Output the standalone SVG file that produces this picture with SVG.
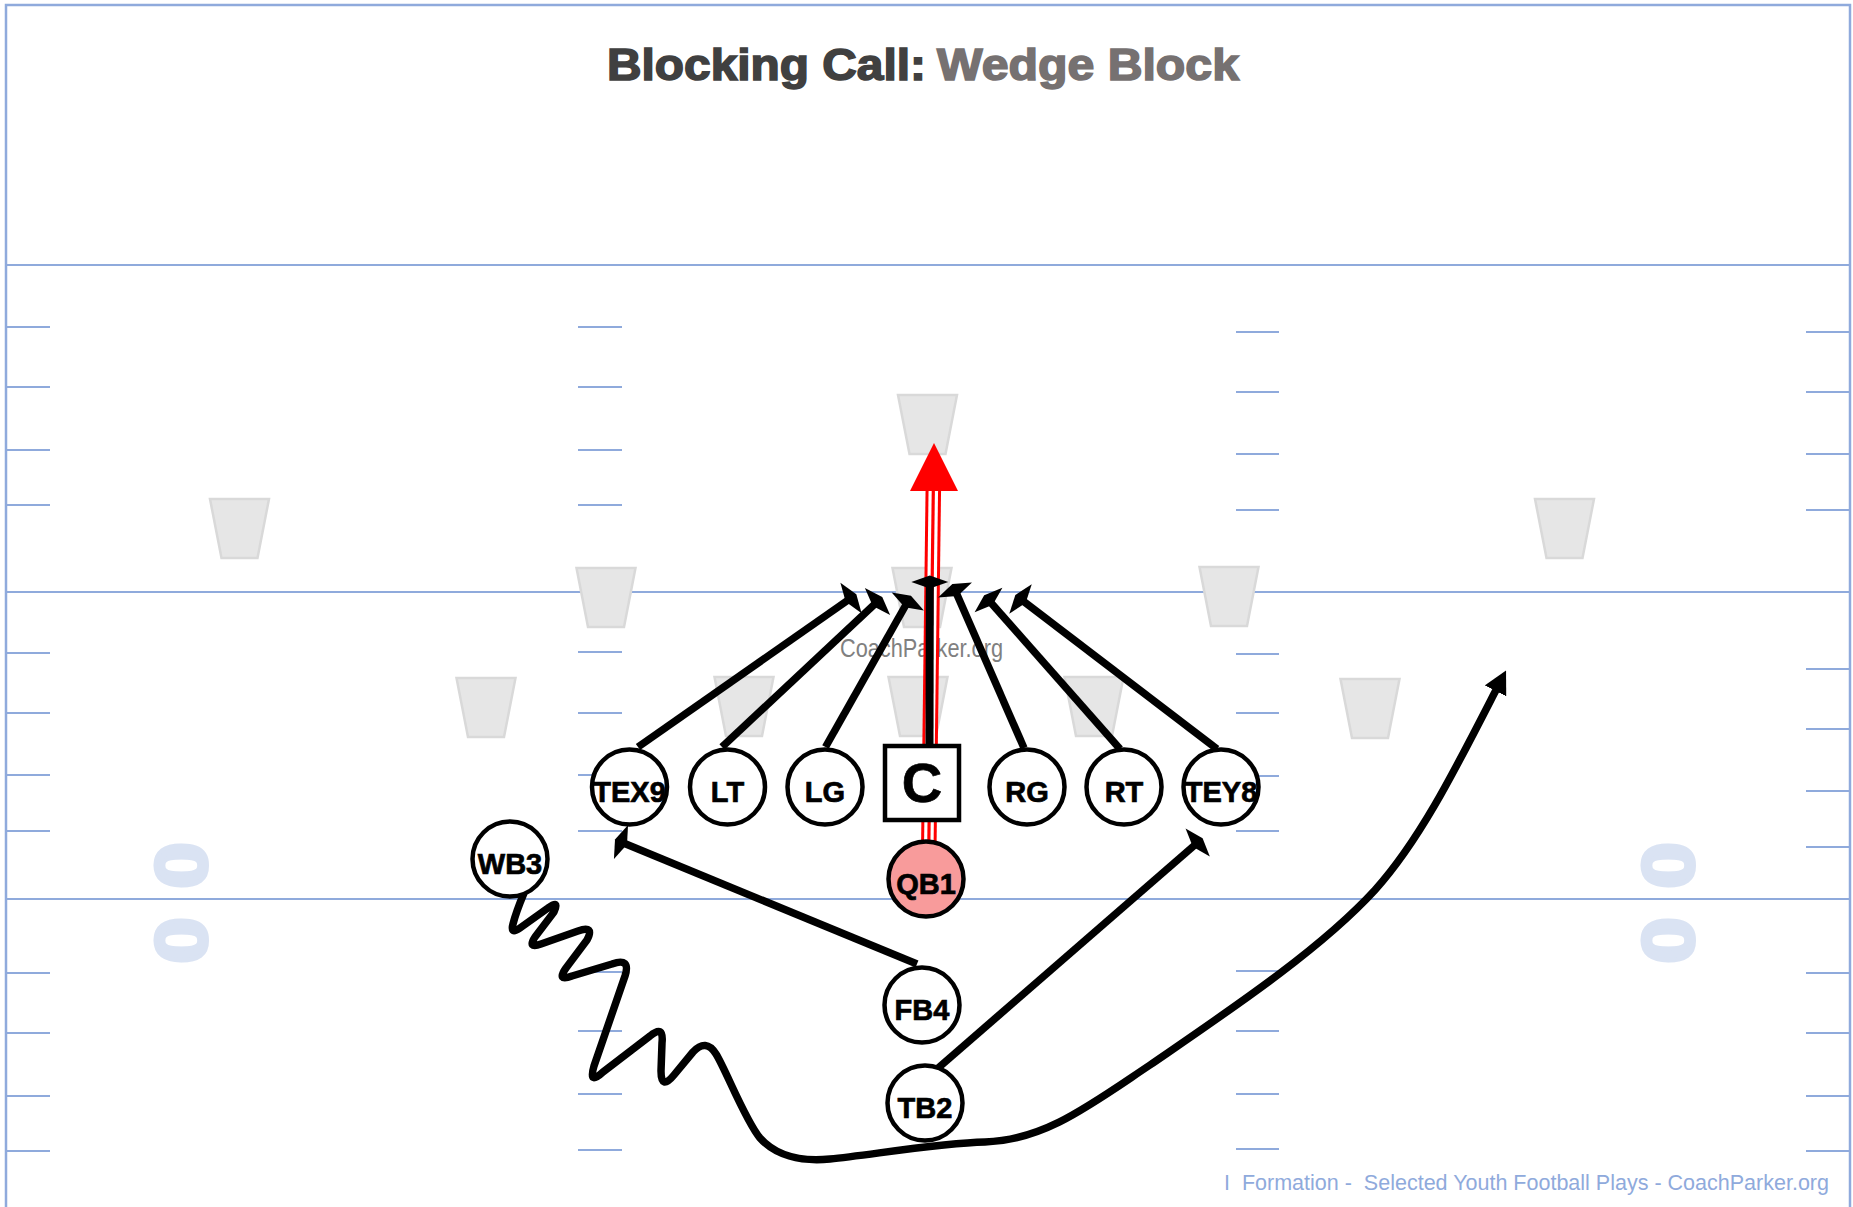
<svg xmlns="http://www.w3.org/2000/svg" width="1853" height="1207" viewBox="0 0 1853 1207">
<style>
.fl{stroke:#8faadc;stroke-width:2;fill:none}
.dl{fill:#e6e6e6;stroke:#d9d9d9;stroke-width:2.5}
.yd{font-family:"Liberation Sans",Arial,sans-serif;font-weight:bold;font-size:72px;fill:#dae3f3;stroke:#dae3f3;stroke-width:4;text-anchor:middle}
.ln{stroke:#000;stroke-width:7.5;fill:none;stroke-linecap:butt;stroke-linejoin:round}
.nd{fill:#fff;stroke:#000;stroke-width:4.5}
.lb{font-family:"Liberation Sans",Arial,sans-serif;font-weight:bold;font-size:29px;fill:#000;stroke:#000;stroke-width:0.7;text-anchor:middle}
</style>
<defs>
<polygon id="dlm" points="-29.5,0 29.5,0 18,59 -18,59"/>
<marker id="dia" markerUnits="userSpaceOnUse" viewBox="-7 -19 14 38" markerWidth="14" markerHeight="38" refX="0" refY="0" orient="auto">
<path d="M6.5,0 L0,-18.5 L-6.5,0 L0,18.5 Z" fill="#000"/>
</marker>
<marker id="tri" markerUnits="userSpaceOnUse" viewBox="0 -12.5 23 25" markerWidth="23" markerHeight="25" refX="1" refY="0" orient="auto">
<path d="M0,-12 L23,0 L0,12 Z" fill="#000"/>
</marker>
</defs>
<rect width="1853" height="1207" fill="#fff"/>
<g id="field">
<rect x="6" y="5" width="1844" height="1240" fill="none" stroke="#8faadc" stroke-width="2.5"/>
<path class="fl" d="M6,265H1850 M6,592H1850 M6,899H1850"/>
<path class="fl" d="M7,327H50 M7,387H50 M7,450H50 M7,505H50 M7,653H50 M7,713H50 M7,775H50 M7,831H50 M7,973H50 M7,1033H50 M7,1096H50 M7,1151H50"/>
<path class="fl" d="M578,327H622 M578,387H622 M578,450H622 M578,505H622 M578,652H622 M578,713H622 M578,775H622 M578,831H622 M578,972H622 M578,1031H622 M578,1094H622 M578,1150H622"/>
<path class="fl" d="M1236,332H1279 M1236,392H1279 M1236,454H1279 M1236,510H1279 M1236,654H1279 M1236,713H1279 M1236,776H1279 M1236,831H1279 M1236,971H1279 M1236,1031H1279 M1236,1094H1279 M1236,1149H1279"/>
<path class="fl" d="M1806,332H1850 M1806,392H1850 M1806,454H1850 M1806,510H1850 M1806,669H1850 M1806,729H1850 M1806,791H1850 M1806,847H1850 M1806,973H1850 M1806,1033H1850 M1806,1096H1850 M1806,1151H1850"/>
<text class="yd" transform="translate(182,865.5) rotate(90) scale(1.15,1)" x="0" y="26">0</text>
<text class="yd" transform="translate(182,940.5) rotate(90) scale(1.15,1)" x="0" y="26">0</text>
<text class="yd" transform="translate(1669.5,865.5) rotate(90) scale(1.15,1)" x="0" y="26">0</text>
<text class="yd" transform="translate(1669.5,940.5) rotate(90) scale(1.15,1)" x="0" y="26">0</text>
</g>
<g id="defense">
<use href="#dlm" class="dl" x="239.5" y="499"/>
<use href="#dlm" class="dl" x="1564.5" y="499"/>
<use href="#dlm" class="dl" x="927.5" y="395"/>
<use href="#dlm" class="dl" x="606" y="568"/>
<use href="#dlm" class="dl" x="922" y="568"/>
<use href="#dlm" class="dl" x="1229" y="567"/>
<use href="#dlm" class="dl" x="486" y="678"/>
<use href="#dlm" class="dl" x="744" y="677"/>
<use href="#dlm" class="dl" x="918" y="677"/>
<use href="#dlm" class="dl" x="1094" y="677"/>
<use href="#dlm" class="dl" x="1370" y="679"/>
</g>
<g id="title">
<text x="607" y="79.5" textLength="319" lengthAdjust="spacingAndGlyphs" style="font-family:'Liberation Sans',Arial,sans-serif;font-weight:bold;font-size:44px;fill:#404040;stroke:#404040;stroke-width:1.6">Blocking Call:</text>
<text x="937" y="79.5" textLength="302" lengthAdjust="spacingAndGlyphs" style="font-family:'Liberation Sans',Arial,sans-serif;font-weight:bold;font-size:44px;fill:#767171;stroke:#767171;stroke-width:1.6">Wedge Block</text>
</g>
<text id="watermark" x="840" y="657" textLength="163" lengthAdjust="spacingAndGlyphs" style="font-family:'Liberation Sans',Arial,sans-serif;font-size:25px;fill:#808080">CoachParker.org</text>
<text id="footer" x="1224" y="1190" xml:space="preserve" textLength="605" lengthAdjust="spacingAndGlyphs" style="font-family:'Liberation Sans',Arial,sans-serif;font-size:22px;fill:#8faadc">I  Formation -  Selected Youth Football Plays - CoachParker.org</text>
<g id="connectors">
<g id="qb-run">
<path d="M928.5,870 L933.3,491" stroke="#ff0000" stroke-width="15.5" fill="none"/>
<path d="M928.5,870 L933.3,491" stroke="#fff" stroke-width="9.5" fill="none"/>
<path d="M928.5,870 L933.3,491" stroke="#ff0000" stroke-width="3.2" fill="none"/>
<polygon points="934,443 958,491 910,491" fill="#ff0000"/>
</g>
<path class="ln" marker-end="url(#dia)" d="M638,747 L851,598"/>
<path class="ln" marker-end="url(#dia)" d="M722,747 L877.5,601.5"/>
<path class="ln" marker-end="url(#dia)" d="M825.5,747 L907.8,601.5"/>
<path class="ln" marker-end="url(#dia)" d="M929.5,745 L929.8,582" style="stroke-width:8"/>
<path class="ln" marker-end="url(#dia)" d="M1024,748 L955,590"/>
<path class="ln" marker-end="url(#dia)" d="M1120,749 L988.5,600"/>
<path class="ln" marker-end="url(#dia)" d="M1217,749 L1020.5,599"/>
<path class="ln" marker-end="url(#dia)" d="M917,964 L621,842"/>
<path class="ln" marker-end="url(#dia)" d="M937,1069 L1197.7,842.5"/>
<path class="ln" marker-end="url(#tri)" d="M524,893 C519,905 515,916 513,924 Q510,935 520,928 L548,908 Q560,899 554,912 L535,937 Q527,949 541,944 L578,931 Q595,925 587,940 L566,968 Q556,982 572,976 L612,964 Q631,957 625,976 L594,1066 Q588,1086 603,1072 L650,1036 Q664,1024 662,1043 L661,1071 Q661,1091 674,1075 L693,1052 Q706,1038 716,1054 C726,1070 745,1120 760,1138 C775,1155 800,1162 830,1159 C870,1155 940,1143 985,1142 C1045,1140 1090,1105 1150,1065 C1230,1010 1320,950 1375,890 C1420,840 1455,770 1496,690"/>
</g>
<g id="node-TEX9"><circle class="nd" cx="629.5" cy="787" r="37.5"/><text class="lb" x="629.5" y="801.5">TEX9</text></g>
<g id="node-LT"><circle class="nd" cx="727.5" cy="787" r="37.5"/><text class="lb" x="727.5" y="801.5">LT</text></g>
<g id="node-LG"><circle class="nd" cx="825" cy="787" r="37.5"/><text class="lb" x="825" y="801.5">LG</text></g>
<g id="node-C"><rect class="nd" x="885" y="746" width="74" height="74"/><text class="lb" x="922" y="801.5" style="font-size:56px">C</text></g>
<g id="node-RG"><circle class="nd" cx="1027" cy="787" r="37.5"/><text class="lb" x="1027" y="801.5">RG</text></g>
<g id="node-RT"><circle class="nd" cx="1124" cy="787" r="37.5"/><text class="lb" x="1124" y="801.5">RT</text></g>
<g id="node-TEY8"><circle class="nd" cx="1221" cy="787" r="37.5"/><text class="lb" x="1221" y="801.5">TEY8</text></g>
<g id="node-QB1"><circle class="nd" cx="926" cy="879" r="37.5" style="fill:#f89b9b"/><text class="lb" x="926" y="893.5">QB1</text></g>
<g id="node-WB3"><circle class="nd" cx="510" cy="859" r="37.5"/><text class="lb" x="510" y="873.5">WB3</text></g>
<g id="node-FB4"><circle class="nd" cx="922" cy="1005" r="37.5"/><text class="lb" x="922" y="1019.5">FB4</text></g>
<g id="node-TB2"><circle class="nd" cx="925" cy="1103" r="37.5"/><text class="lb" x="925" y="1117.5">TB2</text></g>
</svg>
